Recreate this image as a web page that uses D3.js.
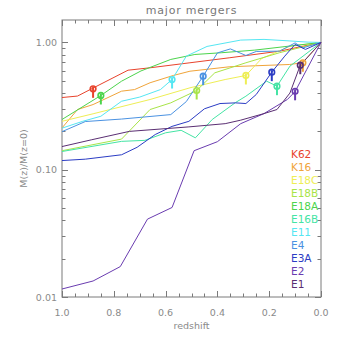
<!DOCTYPE html>
<html><head><meta charset="utf-8">
<script src="https://cdn.jsdelivr.net/npm/d3@7"></script>
<style>html,body{margin:0;padding:0;background:#fff;}svg{display:block;}</style>
</head><body>
<svg id="c" width="340" height="340"></svg>
<script>
// ---- data (redshift, M(z)/M(z=0)) ----
const names  = ["K62","K16","E18C","E18B","E18A","E16B","E11","E4","E3A","E2","E1"];
const colors = ["#e8432c","#f0a43a","#eeee55","#a8e448","#4cd44c","#44e4a4","#55e6f2","#4a92e2","#2b3cc4","#6a3cb0","#5a2e72"];
const K62  = [[1.0,0.369],[0.94,0.379],[0.88,0.438],[0.745,0.605],[0.66,0.632],[0.506,0.692],[0.352,0.758],[0.159,0.854],[0.0,1.0]];
const K16  = [[1.0,0.213],[0.94,0.297],[0.88,0.325],[0.77,0.414],[0.72,0.426],[0.66,0.482],[0.57,0.55],[0.506,0.594],[0.352,0.644],[0.121,0.671],[0.071,0.692],[0.0,1.0]];
const E18C = [[1.0,0.240],[0.88,0.275],[0.66,0.356],[0.506,0.440],[0.37,0.511],[0.29,0.550],[0.229,0.748],[0.121,0.930],[0.0,1.0]];
const E18B = [[1.0,0.141],[0.77,0.174],[0.66,0.297],[0.58,0.335],[0.48,0.419],[0.41,0.577],[0.29,0.692],[0.16,0.830],[0.0,1.0]];
const E18A = [[1.0,0.248],[0.85,0.383],[0.77,0.496],[0.695,0.597],[0.58,0.735],[0.487,0.804],[0.383,0.830],[0.256,0.870],[0.0,1.0]];
const E16B = [[1.0,0.139],[0.77,0.167],[0.68,0.170],[0.60,0.195],[0.54,0.204],[0.485,0.178],[0.42,0.248],[0.33,0.337],[0.29,0.378],[0.21,0.496],[0.17,0.453],[0.12,0.651],[0.0,1.0]];
const E11  = [[1.0,0.212],[0.92,0.240],[0.85,0.263],[0.77,0.345],[0.70,0.372],[0.62,0.426],[0.575,0.511],[0.52,0.780],[0.44,0.930],[0.31,1.043],[0.22,1.056],[0.12,1.027],[0.05,1.005],[0.0,1.0]];
const E4   = [[1.0,0.199],[0.91,0.239],[0.77,0.250],[0.58,0.271],[0.52,0.343],[0.455,0.543],[0.40,0.827],[0.35,0.889],[0.29,0.790],[0.25,0.849],[0.16,0.854],[0.10,0.991],[0.07,0.905],[0.0,1.0]];
const E3A  = [[1.0,0.118],[0.91,0.121],[0.77,0.131],[0.71,0.150],[0.64,0.189],[0.575,0.219],[0.51,0.240],[0.45,0.301],[0.39,0.331],[0.33,0.335],[0.29,0.331],[0.25,0.390],[0.19,0.584],[0.14,0.780],[0.10,0.964],[0.06,0.881],[0.0,1.0]];
const E2   = [[1.0,0.01156],[0.88,0.01336],[0.775,0.01733],[0.67,0.0409],[0.575,0.0505],[0.49,0.141],[0.40,0.166],[0.31,0.230],[0.22,0.276],[0.13,0.356],[0.10,0.411],[0.055,0.613],[0.0,1.0]];
const E1   = [[1.0,0.152],[0.885,0.172],[0.74,0.200],[0.51,0.217],[0.37,0.230],[0.31,0.245],[0.22,0.276],[0.17,0.297],[0.12,0.40],[0.08,0.662],[0.0,1.0]];
const seriesData = [K62,K16,E18C,E18B,E18A,E16B,E11,E4,E3A,E2,E1];
const markerZ = [0.88,0.07,0.29,0.48,0.85,0.17,0.575,0.455,0.19,0.10,0.08];
const markerV = [0.432,0.692,0.550,0.419,0.383,0.453,0.511,0.543,0.584,0.413,0.662];
const xTicks = [1.0,0.8,0.6,0.4,0.2,0.0];
const xTickLabels = ["1.0","0.8","0.6","0.4","0.2","0.0"];
const yTicks = [1.0,0.1,0.01];
const yTickLabels = ["1.00","0.10","0.01"];

// ---- layout ----
const L=62, R=321, T=20, B=297;
const svg = d3.select("#c");
const x = d3.scaleLinear().domain([1.0,0.0]).range([L,R]);
const y = d3.scaleLog().domain([0.01,1.5]).range([B,T]);
const axCol = "#7a7a7a";
const font = "'DejaVu Sans', sans-serif";

// frame
svg.append("rect").attr("x",L).attr("y",T).attr("width",R-L).attr("height",B-T)
  .attr("fill","none").attr("stroke",axCol).attr("stroke-width",1);

// minor/major ticks
const xMinor = d3.range(0,21).map(i=>i*0.05);
const yMinor = [];
[0.01,0.1,1].forEach(d=>{for(let k=1;k<10;k++){const v=d*k; if(v>=0.01 && v<=1.5) yMinor.push(v);}});
const isMajX = v => xTicks.some(t=>Math.abs(t-v)<1e-6);
const isMajY = v => yTicks.some(t=>Math.abs(t-v)<1e-9);
const tk = svg.append("g").attr("stroke",axCol).attr("stroke-width",1);
xMinor.forEach(v=>{
  const px = Math.round(x(v))+0.5, len = isMajX(v)?6:3.5;
  tk.append("line").attr("x1",px).attr("x2",px).attr("y1",B).attr("y2",B-len);
  tk.append("line").attr("x1",px).attr("x2",px).attr("y1",T).attr("y2",T+len);
});
yMinor.forEach(v=>{
  const py = Math.round(y(v))+0.5, len = isMajY(v)?6:3.5;
  tk.append("line").attr("x1",L).attr("x2",L+len).attr("y1",py).attr("y2",py);
  tk.append("line").attr("x1",R).attr("x2",R-len).attr("y1",py).attr("y2",py);
});

// tick labels
xTicks.forEach((t,i)=>{
  svg.append("text").attr("x",x(t)).attr("y",316).attr("text-anchor","middle")
    .attr("font-family",font).attr("font-size",9.5).attr("fill","#8a8a8a").text(xTickLabels[i]);
});
yTicks.forEach((t,i)=>{
  svg.append("text").attr("x",57).attr("y",y(t)+3.5).attr("text-anchor","end")
    .attr("font-family",font).attr("font-size",9.5).attr("fill","#8a8a8a").text(yTickLabels[i]);
});

// titles
svg.append("text").attr("x",(L+R)/2).attr("y",14).attr("text-anchor","middle")
  .attr("font-family",font).attr("font-size",11).attr("letter-spacing",0.8).attr("fill","#777").text("major mergers");
svg.append("text").attr("x",(L+R)/2).attr("y",329).attr("text-anchor","middle")
  .attr("font-family",font).attr("font-size",9.5).attr("fill","#8a8a8a").text("redshift");
svg.append("text").attr("transform",`translate(27,${(T+B)/2}) rotate(-90)`).attr("text-anchor","middle")
  .attr("font-family",font).attr("font-size",9.5).attr("fill","#8a8a8a").text("M(z)/M(z=0)");

// lines
const line = d3.line().x(d=>x(d[0])).y(d=>y(d[1]));
const g = svg.append("g");
seriesData.forEach((s,i)=>{
  g.append("path").datum(s).attr("d",line).attr("fill","none")
    .attr("stroke",colors[i]).attr("stroke-width",1);
});

// markers (pin: circle with stem downward)
markerZ.forEach((z,i)=>{
  const cx = x(z), cy = y(markerV[i]);
  g.append("line").attr("x1",cx).attr("x2",cx).attr("y1",cy-2).attr("y2",cy+9)
    .attr("stroke",colors[i]).attr("stroke-width",2);
  g.append("circle").attr("cx",cx).attr("cy",cy).attr("r",2.8)
    .attr("fill","none").attr("stroke",colors[i]).attr("stroke-width",1.6);
});

// legend
names.forEach((n,i)=>{
  svg.append("text").attr("x",291).attr("y",158+i*12.95)
    .attr("font-family",font).attr("font-size",10.5).attr("fill",colors[i]).text(n);
});
</script>
</body></html>
